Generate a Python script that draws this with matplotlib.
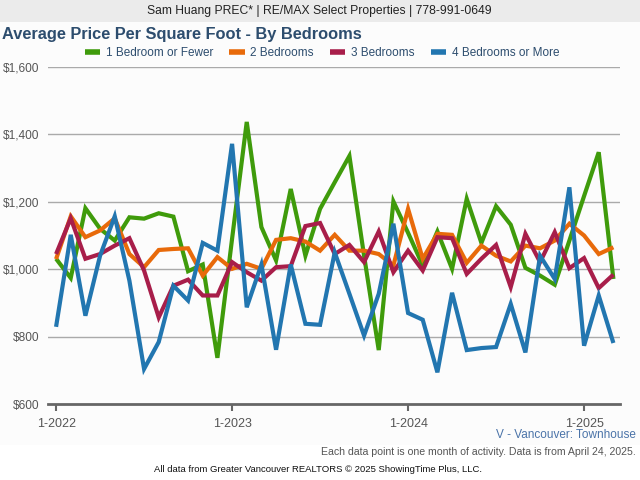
import matplotlib
matplotlib.use("Agg")
import matplotlib.pyplot as plt
from matplotlib.patches import Rectangle

months = list(range(39))  # Jan 2022 .. Mar 2025
tick_pos = [0, 12, 24, 36]
tick_labels = ["1-2022", "1-2023", "1-2024", "1-2025"]
y_ticks = [600, 800, 1000, 1200, 1400, 1600]
y_labels = ["$600", "$800", "$1,000", "$1,200", "$1,400", "$1,600"]

series_names = ["1 Bedroom or Fewer", "2 Bedrooms", "3 Bedrooms", "4 Bedrooms or More"]
colors = ["#3f9b0b", "#e86a0a", "#a81e4a", "#2276b0"]

bed1 = [1031, 974, 1181, 1120, 1085, 1154, 1150, 1166, 1156, 994,
        1014, 737, 1090, 1437, 1125, 1026, 1238, 1040, 1179, 1258,
        1336, 1040, 760, 1201, 1108, 1011, 1112, 1001, 1209, 1078,
        1187, 1132, 1004, 981, 954, 1085, 1217, 1347, 971]
bed2 = [1030, 1157, 1095, 1115, 1151, 1045, 1006, 1057, 1060, 1062,
        981, 1036, 1001, 1016, 1001, 1087, 1092, 1082, 1055, 1102,
        1055, 1055, 1045, 1011, 1179, 1031, 1105, 1102, 1019, 1070,
        1040, 1023, 1070, 1062, 1085, 1135, 1100, 1045, 1065]
bed3 = [1045, 1151, 1031, 1045, 1070, 1092, 996, 857, 951, 969,
        922, 922, 1021, 991, 966, 1006, 1009, 1128, 1137, 1045,
        1072, 1021, 1112, 991, 1055, 996, 1095, 1092, 986, 1031,
        1072, 947, 1105, 1021, 1110, 1003, 1033, 944, 984]
bed4 = [829, 1102, 862, 1040, 1157, 966, 704, 784, 951, 907,
        1078, 1055, 1372, 887, 1014, 761, 1014, 838, 835, 1050,
        927, 803, 927, 1135, 870, 850, 694, 930, 760, 766,
        769, 897, 753, 1040, 971, 1243, 773, 922, 781]
all_series = [bed1, bed2, bed3, bed4]

W, H = 640, 480
fig = plt.figure(figsize=(6.4, 4.8), dpi=100)
fig.patch.set_facecolor("white")

# top banner and light panel background
fig.patches.append(Rectangle((0, 1 - 22 / H), 1, 22 / H, transform=fig.transFigure,
                             facecolor="#ebebeb", edgecolor="none", zorder=-10))
fig.patches.append(Rectangle((0, 1 - 445 / H), 1, (445 - 22) / H, transform=fig.transFigure,
                             facecolor="#fcfcfc", edgecolor="none", zorder=-10))
fig.text(319 / W, 1 - 11 / H, "Sam Huang PREC* | RE/MAX Select Properties | 778-991-0649",
         ha="center", va="center", fontsize=8.7, color="#222222", family="Liberation Sans")

fig.text(2 / W, 1 - 35 / H, "Average Price Per Square Foot - By Bedrooms",
         ha="left", va="center", fontsize=11.8, fontweight="bold", color="#2d4d6e",
         family="Liberation Sans")

left, right = 48, 620
top, bottom = 67, 404
ax = fig.add_axes([left / W, 1 - bottom / H, (right - left) / W, (bottom - top) / H])
ax.set_facecolor("none")
ax.set_zorder(5)

for vals, c, name in zip(all_series, colors, series_names):
    ax.plot(months, vals, color=c, lw=3.0, solid_joinstyle="miter", label=name,
            solid_capstyle="butt", clip_on=False)

ax.set_xlim(-0.55, 38.45)
ax.set_ylim(600, 1600)
ax.set_yticks(y_ticks)
ax.set_yticklabels(y_labels)
ax.set_xticks(tick_pos)
ax.set_xticklabels(tick_labels)
for yv in y_ticks[1:]:
    ax.axhline(yv, color="#aaaaaa", lw=1.0, zorder=0)
for s in ["top", "right", "left"]:
    ax.spines[s].set_visible(False)
ax.spines["bottom"].set_color("#666666")
ax.spines["bottom"].set_linewidth(2)
ax.tick_params(axis="y", length=0, pad=6, labelsize=8.6, labelcolor="#555555")
ax.tick_params(axis="x", length=5, width=1.5, color="#666666", pad=5,
               labelsize=9, labelcolor="#555555")
for t in ax.get_xticklabels() + ax.get_yticklabels():
    t.set_family("Liberation Sans")

leg = fig.legend(loc="center", bbox_to_anchor=(322 / W, 1 - 53 / H), ncol=4,
                 frameon=False, handlelength=1.3, handleheight=0.5,
                 columnspacing=1.35, handletextpad=0.5,
                 prop={"family": "Liberation Sans", "size": 8.5})
for txt in leg.get_texts():
    txt.set_color("#2d4d6e")
for h in leg.get_lines():
    h.set_linewidth(4)

fig.text(636 / W, 1 - 435 / H, "V - Vancouver: Townhouse", ha="right", va="center",
         fontsize=8.5, color="#4a73a8", family="Liberation Sans")
fig.text(636 / W, 1 - 452 / H,
         "Each data point is one month of activity. Data is from April 24, 2025.",
         ha="right", va="center", fontsize=7.6, color="#555555", family="Liberation Sans")
fig.text(318 / W, 1 - 469 / H,
         "All data from Greater Vancouver REALTORS \u00a9 2025 ShowingTime Plus, LLC.",
         ha="center", va="center", fontsize=6.8, color="#111111", family="Liberation Sans")

fig.savefig("out.png", dpi=100)
